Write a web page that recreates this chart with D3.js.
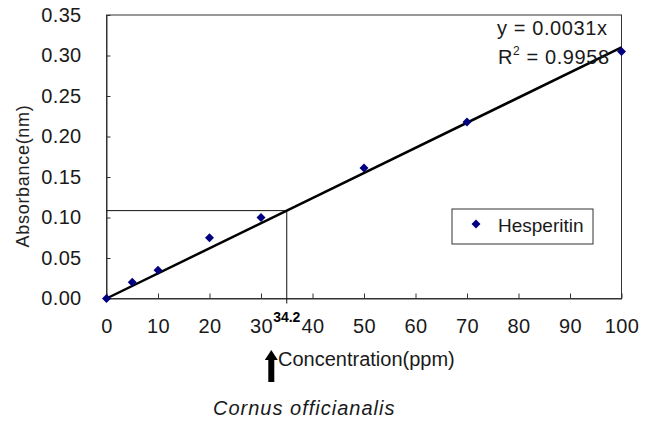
<!DOCTYPE html>
<html>
<head>
<meta charset="utf-8">
<script src="https://cdn.jsdelivr.net/npm/d3@7"></script>
<style>
  body { margin: 0; background: #fff; }
  svg { display: block; font-family: "Liberation Sans", Arial, sans-serif; }
</style>
</head>
<body>
<svg id="chart" width="653" height="421"></svg>
<script>
const concentrations = [0, 5, 10, 20, 30, 50, 70, 100];
const absorbances = [0, 0.02, 0.035, 0.075, 0.1, 0.161, 0.218, 0.305];
const xTicks = [0, 10, 20, 30, 40, 50, 60, 70, 80, 90, 100];
const yTicks = [0, 0.05, 0.1, 0.15, 0.2, 0.25, 0.3, 0.35];
const slope = 0.0031;
const rSquared = "0.9958";
const sampleX = 35;
const sampleLabel = "34.2";
const seriesName = "Hesperitin";

const width = 653, height = 421;
const margin = { top: 15, right: 31.5, bottom: 122.5, left: 106.5 };

const svg = d3.select("#chart");

const x = d3.scaleLinear().domain([0, 100]).range([margin.left, width - margin.right]);
const y = d3.scaleLinear().domain([0, 0.35]).range([height - margin.bottom, margin.top]);

// plot frame
svg.append("rect")
  .attr("x", x(0)).attr("y", y(0.35))
  .attr("width", x(100) - x(0)).attr("height", y(0) - y(0.35))
  .attr("fill", "none").attr("stroke", "#333").attr("stroke-width", 1);

// axes with inward ticks
const xAxis = svg.append("g")
  .attr("transform", `translate(0,${y(0)})`)
  .call(d3.axisBottom(x).tickValues(xTicks).tickSizeInner(-5).tickSizeOuter(0).tickPadding(30));
const yAxis = svg.append("g")
  .attr("transform", `translate(${x(0)},0)`)
  .call(d3.axisLeft(y).tickValues(yTicks).tickSizeInner(-4).tickSizeOuter(0).tickPadding(25)
    .tickFormat(d3.format(".2f")));

[xAxis, yAxis].forEach((g) => {
  g.select(".domain").attr("stroke", "#333");
  g.selectAll(".tick line").attr("stroke", "#333");
  g.selectAll(".tick text")
    .attr("fill", "#1a1a1a")
    .style("font-size", "20px")
    .style("letter-spacing", "0.3px");
});
xAxis.selectAll(".tick text").attr("dy", "0.2em");

// guide lines for the sample reading
const sampleY = slope * sampleX;
svg.append("path")
  .attr("d", `M${x(0)},${y(sampleY)}H${x(sampleX)}V${y(0) + 5}`)
  .attr("fill", "none").attr("stroke", "#111").attr("stroke-width", 1);

svg.append("text")
  .attr("x", x(sampleX)).attr("y", y(0) + 23)
  .attr("text-anchor", "middle")
  .style("font-size", "14px").style("font-weight", "bold")
  .text(sampleLabel);

// fit line
svg.append("line")
  .attr("x1", x(0)).attr("y1", y(0))
  .attr("x2", x(100)).attr("y2", y(slope * 100))
  .attr("stroke", "#000").attr("stroke-width", 2.5);

// data points
const diamond = d3.symbol().type(d3.symbolSquare).size(40);
svg.selectAll(".pt")
  .data(concentrations)
  .enter()
  .append("path")
  .classed("pt", true)
  .attr("d", diamond)
  .attr("transform", (d, i) => `translate(${x(d)},${y(absorbances[i])}) rotate(45)`)
  .attr("fill", "#000080");

// equation
svg.append("text")
  .attr("x", 497).attr("y", 35)
  .attr("fill", "#1a1a1a")
  .style("font-size", "20px").style("letter-spacing", "0.6px")
  .text(`y = ${slope}x`);
const r2 = svg.append("text")
  .attr("x", 498).attr("y", 64)
  .attr("fill", "#1a1a1a")
  .style("font-size", "20px").style("letter-spacing", "0.6px");
r2.append("tspan").text("R");
r2.append("tspan").attr("dy", -9).style("font-size", "12px").text("2");
r2.append("tspan").attr("dy", 9).text(` = ${rSquared}`);

// legend
const legend = svg.append("g").attr("transform", "translate(452,209)");
legend.append("rect")
  .attr("width", 141).attr("height", 35)
  .attr("fill", "#fff").attr("stroke", "#333").attr("stroke-width", 1);
legend.append("path")
  .attr("d", diamond)
  .attr("transform", "translate(24,15) rotate(45)")
  .attr("fill", "#000080");
legend.append("text")
  .attr("x", 46).attr("y", 23)
  .attr("fill", "#1a1a1a")
  .style("font-size", "19px")
  .text(seriesName);

// axis titles
svg.append("text")
  .attr("transform", "translate(29,176) rotate(-90)")
  .attr("text-anchor", "middle")
  .style("font-size", "18px").style("letter-spacing", "0.7px")
  .attr("fill", "#222")
  .text("Absorbance(nm)");

svg.append("text")
  .attr("x", 278).attr("y", 366)
  .attr("fill", "#1a1a1a")
  .style("font-size", "20px")
  .text("Concentration(ppm)");

// arrow pointing at the reading
const ax = x(32);
svg.append("path")
  .attr("d", `M${ax},350 L${ax + 6.5},360 L${ax + 3},360 L${ax + 3},382 L${ax - 3},382 L${ax - 3},360 L${ax - 6.5},360 Z`)
  .attr("fill", "#000");

svg.append("text")
  .attr("x", 213).attr("y", 415)
  .attr("fill", "#1a1a1a")
  .style("font-size", "20px").style("font-style", "italic").style("letter-spacing", "1px")
  .text("Cornus officianalis");
</script>
</body>
</html>
